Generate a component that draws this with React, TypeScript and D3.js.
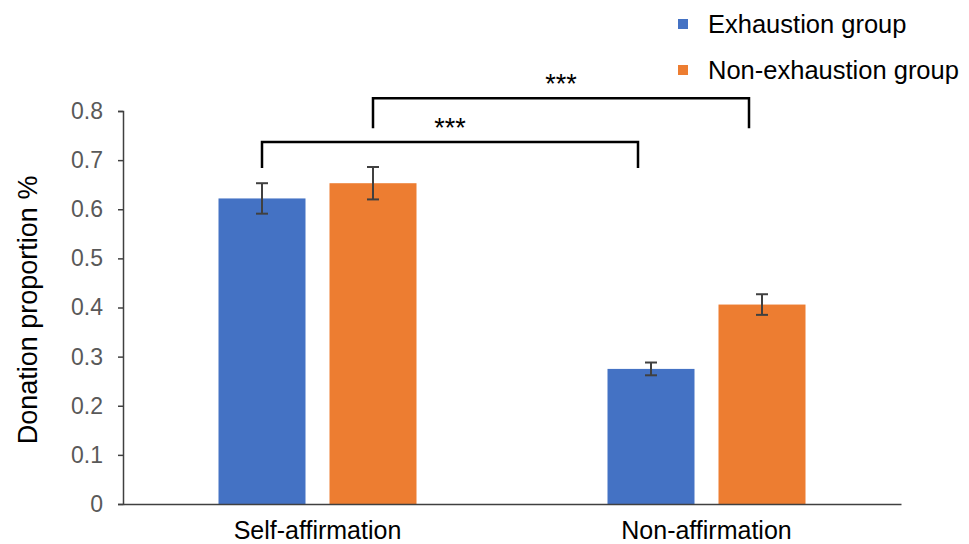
import React, { useEffect, useRef } from "react";
import * as d3 from "d3";

const categories = ["Self-affirmation", "Non-affirmation"];
const seriesNames = ["Exhaustion group", "Non-exhaustion group"];
const colors = ["#4472C4", "#ED7D31"];
const exhaustion = [0.622, 0.275];
const nonExhaustion = [0.653, 0.406];
const exhaustionErr = [0.031, 0.013];
const nonExhaustionErr = [0.033, 0.021];
const yTicks = [0, 0.1, 0.2, 0.3, 0.4, 0.5, 0.6, 0.7, 0.8];

// significance brackets: [category, series] at each end, bar level, top level
const brackets = [
  { from: [0, 0], to: [1, 0], top: 0.737, bottom: 0.684, label: "***" },
  { from: [0, 1], to: [1, 1], top: 0.826, bottom: 0.765, label: "***" },
];

const App = () => {
  const ref = useRef<SVGSVGElement>(null);

  useEffect(() => {
    const width = 969;
    const height = 544;
    const margin = { top: 111, right: 68, bottom: 40, left: 123 };
    const font = "Arial, 'Liberation Sans', sans-serif";

    const svg = d3.select(ref.current);
    svg.selectAll("*").remove();
    svg.attr("width", width).attr("height", height);

    const x0 = d3
      .scaleBand()
      .domain(categories)
      .range([margin.left, width - margin.right]);
    const x1 = d3
      .scaleBand()
      .domain(seriesNames)
      .range([0, 198])
      .paddingInner(24 / 111);
    const groupOffset = (x0.bandwidth() - 198) / 2;

    const y = d3
      .scaleLinear()
      .domain([0, 0.8])
      .range([height - margin.bottom, margin.top]);

    const values = [exhaustion, nonExhaustion];
    const errs = [exhaustionErr, nonExhaustionErr];

    const barX = (ci: number, si: number) =>
      (x0(categories[ci]) as number) + groupOffset + (x1(seriesNames[si]) as number);
    const barCenter = (ci: number, si: number) => barX(ci, si) + x1.bandwidth() / 2;

    // bars
    values.forEach((vals, si) => {
      svg
        .append("g")
        .selectAll("rect")
        .data(vals)
        .enter()
        .append("rect")
        .attr("x", (d, ci) => barX(ci, si))
        .attr("y", (d) => y(d))
        .attr("width", x1.bandwidth())
        .attr("height", (d) => y(0) - y(d))
        .attr("fill", colors[si]);
    });

    // error bars
    values.forEach((vals, si) => {
      vals.forEach((v, ci) => {
        const cx = barCenter(ci, si);
        const e = errs[si][ci];
        const g = svg.append("g").attr("stroke", "#404040").attr("stroke-width", 2);
        g.append("line").attr("x1", cx).attr("x2", cx).attr("y1", y(v + e)).attr("y2", y(v - e));
        g.append("line").attr("x1", cx - 6).attr("x2", cx + 6).attr("y1", y(v + e)).attr("y2", y(v + e));
        g.append("line").attr("x1", cx - 6).attr("x2", cx + 6).attr("y1", y(v - e)).attr("y2", y(v - e));
      });
    });

    // y axis
    const yAxis = svg
      .append("g")
      .attr("transform", `translate(${margin.left},0)`)
      .call(
        d3
          .axisLeft(y)
          .tickValues(yTicks)
          .tickSize(5)
          .tickPadding(15)
          .tickFormat((d) => (d === 0 ? "0" : d3.format(".1f")(d as number)))
      );
    yAxis.select(".domain").attr("stroke", "#404040").attr("stroke-width", 1.5);
    yAxis.selectAll(".tick line").attr("stroke", "#404040").attr("stroke-width", 1.5);
    yAxis
      .selectAll(".tick text")
      .attr("fill", "#595959")
      .style("font-family", font)
      .style("font-size", "23px");

    // x axis
    const xAxis = svg
      .append("g")
      .attr("transform", `translate(0,${y(0)})`)
      .call(d3.axisBottom(x0).tickSize(0).tickPadding(17));
    xAxis.select(".domain").attr("stroke", "#404040").attr("stroke-width", 1.5);
    xAxis
      .selectAll(".tick text")
      .attr("fill", "#000")
      .style("font-family", font)
      .style("font-size", "25px");

    // y title
    svg
      .append("text")
      .attr("transform", `translate(37,${y(0.395)}) rotate(-90)`)
      .attr("text-anchor", "middle")
      .style("font-family", font)
      .style("font-size", "27px")
      .text("Donation proportion %");

    // brackets
    brackets.forEach((b) => {
      const xa = barCenter(b.from[0], b.from[1]);
      const xb = barCenter(b.to[0], b.to[1]) - 13;
      const path = d3.path();
      path.moveTo(xa, y(b.bottom));
      path.lineTo(xa, y(b.top));
      path.lineTo(xb, y(b.top));
      path.lineTo(xb, y(b.bottom));
      svg
        .append("path")
        .attr("d", path.toString())
        .attr("fill", "none")
        .attr("stroke", "#000")
        .attr("stroke-width", 2.5);
      svg
        .append("text")
        .attr("x", (xa + xb) / 2)
        .attr("y", y(b.top) - 5)
        .attr("text-anchor", "middle")
        .style("font-family", font)
        .style("font-size", "27px")
        .text(b.label);
    });

    // legend
    const legend = svg.append("g").attr("transform", "translate(678,0)");
    seriesNames.forEach((name, i) => {
      const ly = 24 + i * 46;
      legend
        .append("rect")
        .attr("x", 0)
        .attr("y", ly - 5)
        .attr("width", 10)
        .attr("height", 10)
        .attr("fill", colors[i]);
      legend
        .append("text")
        .attr("x", 30)
        .attr("y", ly)
        .attr("dy", "0.35em")
        .style("font-family", font)
        .style("font-size", "25.5px")
        .text(name);
    });
  }, []);

  return (
    <div style={{ margin: -8 }}>
      <svg ref={ref}></svg>
    </div>
  );
};

export default App;
